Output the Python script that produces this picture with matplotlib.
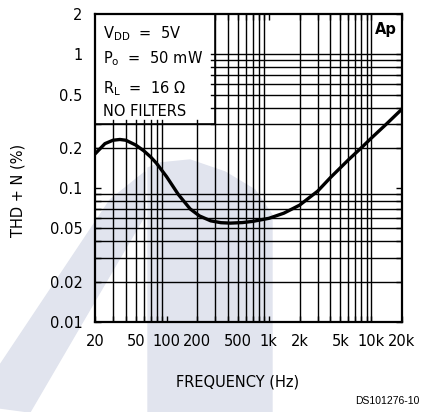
import numpy as np
import matplotlib
matplotlib.use("Agg")
import matplotlib.pyplot as plt
from matplotlib.patches import Rectangle, Polygon

# curve
freq = [20, 25, 30, 35, 40, 50, 60, 70, 80, 100, 130, 170, 210, 270, 340, 420,
        550, 700, 1000, 1400, 2000, 3000, 4000, 6000, 8000, 10000, 14000, 20000]
thd = [0.18, 0.215, 0.228, 0.231, 0.228, 0.21, 0.19, 0.171, 0.153, 0.122, 0.09,
       0.07, 0.062, 0.057, 0.0552, 0.0548, 0.0553, 0.0565, 0.0595, 0.065, 0.0747,
       0.095, 0.12, 0.163, 0.2, 0.236, 0.3, 0.39]

xlabels = ["20", "50", "100", "200", "500", "1k", "2k", "5k", "10k", "20k"]
xticks = [20, 50, 100, 200, 500, 1000, 2000, 5000, 10000, 20000]
ylabels = ["0.01", "0.02", "0.05", "0.1", "0.2", "0.5", "1", "2"]
yticks = [0.01, 0.02, 0.05, 0.1, 0.2, 0.5, 1, 2]

vgrid = [m * d for d in (10, 100, 1000) for m in range(2, 10) if m * d > 20] + [10000]
hgrid = [m * d for d in (0.01, 0.1) for m in range(2, 10)] + [1.0]

fig = plt.figure(figsize=(4.22, 4.12), dpi=100)

# light watermark shapes behind the chart
wm = "#e1e4ee"
fig.patches.append(Polygon([(148/422, 0), (272/422, 0), (272/422, 1-215/412), (255/422, 1-190/412),
                            (225/422, 1-172/412), (190/422, 1-160/412), (160/422, 1-163/412),
                            (148/422, 1-168/412)],
                           closed=True, transform=fig.transFigure, color=wm, zorder=0))
fig.patches.append(Polygon([(0, 1-408/412), (0, 1-365/412), (110/422, 1-200/412), (145/422, 1-172/412),
                            (145/422, 1-215/412), (30/422, 0)],
                           closed=True, transform=fig.transFigure, color=wm, zorder=0))

ax = fig.add_axes([95/422, 1-322/412, 307/422, 308/412])
ax.set_zorder(1)
ax.patch.set_alpha(0)
ax.set_xscale("log")
ax.set_yscale("log")
ax.set_xlim(20, 20000)
ax.set_ylim(0.01, 2)

for v in vgrid:
    ax.axvline(v, color="black", lw=1.0, zorder=1)
for h in hgrid:
    ax.axhline(h, color="black", lw=1.0, zorder=1)

# conditions box in the upper left
ax.add_patch(Rectangle((20, 0.3), 280, 1.7, facecolor="white", edgecolor="black",
                       lw=1.2, zorder=2))
for v in vgrid:
    if v < 300:
        ax.plot([v, v], [0.3, 0.3 * 1.07], color="black", lw=1.0, zorder=2.5)
for h in hgrid:
    if h > 0.3:
        ax.plot([300 * 0.915, 300], [h, h], color="black", lw=1.0, zorder=2.5)

ax.plot(freq, thd, color="black", lw=2.4, zorder=3, solid_capstyle="round")

ax.set_xticks(xticks)
ax.set_xticklabels(xlabels)
ax.set_yticks(yticks)
ax.set_yticklabels(ylabels)
ax.xaxis.set_minor_locator(matplotlib.ticker.FixedLocator(vgrid))
ax.yaxis.set_minor_locator(matplotlib.ticker.FixedLocator(hgrid))
ax.xaxis.set_minor_formatter(matplotlib.ticker.NullFormatter())
ax.yaxis.set_minor_formatter(matplotlib.ticker.NullFormatter())
ax.tick_params(which="both", direction="in", length=4, width=1, top=True, right=True,
               labelsize=10.5, zorder=4)
ax.tick_params(axis="x", pad=9)
ax.tick_params(axis="y", pad=9)
for s in ax.spines.values():
    s.set_linewidth(1.6)
    s.set_zorder(5)

txt = dict(transform=ax.transAxes, fontsize=10.5, va="baseline", ha="left", zorder=6)
ax.text(0.026, 0.922, r"V$_{\mathrm{DD}}$  =  5V", **txt)
ax.text(0.026, 0.841, r"P$_{\mathrm{o}}$  =  50 mW", **txt)
ax.text(0.026, 0.744, r"R$_{\mathrm{L}}$  =  16 $\Omega$", **txt)
ax.text(0.026, 0.669, "NO FILTERS", **txt)
ax.text(0.948, 0.951, "Ap", transform=ax.transAxes, fontsize=10.5, fontweight="bold",
        ha="center", va="center", zorder=6)

fig.text(18/422, 1-190/412, "THD + N (%)", rotation=90, ha="center", va="center", fontsize=10.5)
fig.text(238/422, 1-382/412, "FREQUENCY (Hz)", ha="center", va="center", fontsize=10.5)
fig.text(420/422, 1-401/412, "DS101276-10", ha="right", va="center", fontsize=7.5,
         family="Liberation Sans")

fig.savefig("out.png", dpi=100)
